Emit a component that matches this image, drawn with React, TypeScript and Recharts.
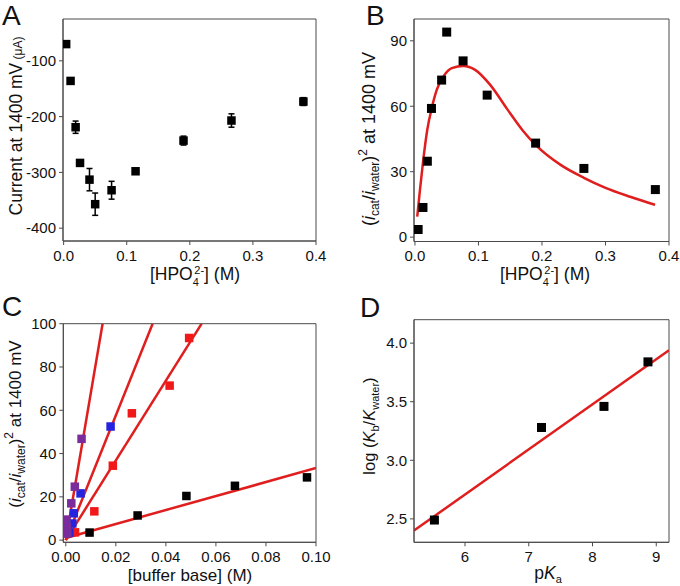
import React from "react";
import {
  ComposedChart,
  Scatter,
  Line,
  XAxis,
  YAxis,
  ErrorBar,
  ReferenceArea,
} from "recharts";

const FONT = "'Liberation Sans', Arial, Helvetica, sans-serif";
const RED = "#e01e1e";
const AXIS = "#4a4a4a";

// A: current at 1400 mV vs [HPO4 2-]
const aConc = [0.004, 0.011, 0.019, 0.026, 0.041, 0.05, 0.076, 0.114, 0.19, 0.266, 0.38];
const aCurrent = [-70, -136, -219, -283, -313, -357, -332, -298, -243, -207, -173];
const aErr = [3, 3, 11, 5, 20, 20, 16, 5, 8, 12, 7];

// B: (icat/iwater)^2 vs [HPO4 2-], with fitted curve
const bConc = [0.005, 0.0126, 0.0195, 0.026, 0.042, 0.05, 0.0758, 0.1137, 0.19, 0.266, 0.3785];
const bRatio = [3.5, 13.6, 34.8, 59, 72, 94, 80.8, 65.1, 43.1, 31.5, 21.8];
const bFitX = [0.0036, 0.0079, 0.0131, 0.0194, 0.0264, 0.0343, 0.0447, 0.058, 0.0763, 0.0948, 0.1185, 0.145, 0.17, 0.19, 0.23, 0.266, 0.3, 0.34, 0.378];
const bFitY = [9.4, 21.7, 35.4, 49.2, 59.1, 67.5, 73.6, 77.5, 78.5, 76.7, 69.8, 58.8, 48.8, 42.3, 33, 27.2, 22.6, 18.4, 14.8];

// C: ratio vs [buffer base] for four buffers
const cBlackX = [0.0095, 0.0287, 0.0482, 0.0676, 0.0964];
const cBlackY = [3.5, 11.4, 20.4, 25.1, 29];
const cRedX = [0.0037, 0.0114, 0.0188, 0.0264, 0.0415, 0.0493];
const cRedY = [3.6, 13.3, 34.4, 58.6, 71.4, 93.4];
const cBlueX = [0.0014, 0.0026, 0.0032, 0.0059, 0.0179];
const cBlueY = [3.5, 7.7, 12.4, 21.6, 52.5];
const cPurpleX = [0.0006, 0.0004, 0.0002, 0.0022, 0.0036, 0.0063];
const cPurpleY = [3, 6, 9.5, 17, 24.7, 46.8];
const cFitBlackX = [0, 0.1];
const cFitBlackY = [1, 33.3];
const cFitRedX = [0, 0.0543];
const cFitRedY = [0, 100];
const cFitBlueX = [0, 0.0347];
const cFitBlueY = [0, 100];
const cFitPurpleX = [0, 0.0147];
const cFitPurpleY = [0, 100];

// D: log(kb/kwater) vs pKa
const dPka = [5.52, 7.2, 8.18, 8.87];
const dLog = [2.49, 3.28, 3.46, 3.84];
const dFitX = [5.2, 9.2];
const dFitY = [2.4, 3.94];

const zip = (xs: number[], ys: number[], extra?: number[]) =>
  xs.map((x, i) => ({ x, y: ys[i], err: extra ? extra[i] : 0 }));

const square = (fill: string, s: number) => (p: any) =>
  <rect x={p.cx - s / 2} y={p.cy - s / 2} width={s} height={s} fill={fill} />;

const tickStyle = { fill: "#111", fontSize: 15, fontFamily: FONT };

function Frame({ x, y }: { x: number[]; y: number[] }) {
  return (
    <ReferenceArea x1={x[0]} x2={x[1]} y1={y[0]} y2={y[1]} fill="none" stroke={AXIS} strokeWidth={1} fillOpacity={0} ifOverflow="visible" />
  );
}

function axes(xDom: number[], xTicks: number[], xDig: number, yDom: number[], yTicks: number[], yDig: number) {
  return [
    <XAxis
      key="x"
      type="number"
      dataKey="x"
      domain={xDom}
      ticks={xTicks}
      interval={0}
      allowDataOverflow
      tickFormatter={(v: number) => v.toFixed(xDig)}
      tick={tickStyle}
      height={30}
      tickSize={4}
      tickMargin={5}
      stroke={AXIS}
    />,
    <YAxis
      key="y"
      type="number"
      dataKey="y"
      domain={yDom}
      ticks={yTicks}
      interval={0}
      allowDataOverflow
      tickFormatter={(v: number) => v.toFixed(yDig)}
      tick={tickStyle}
      width={40}
      tickSize={4}
      tickMargin={3}
      stroke={AXIS}
    />,
  ];
}

function PanelA() {
  const xd = [-0.001, 0.4];
  const yd = [-423, -25];
  return (
    <ComposedChart width={340} height={293} margin={{ top: 19, right: 24, bottom: 22, left: 23 }}>
      {axes(xd, [0, 0.1, 0.2, 0.3, 0.4], 1, yd, [-400, -300, -200, -100], 0)}
      <Frame x={xd} y={yd} />
      <Scatter data={zip(aConc, aCurrent, aErr)} shape={square("#000", 8.5)} isAnimationActive={false}>
        <ErrorBar dataKey="err" direction="y" width={3} stroke="#000" strokeWidth={1.5} />
      </Scatter>
    </ComposedChart>
  );
}

function PanelB() {
  const xd = [-0.0015, 0.4];
  const yd = [-2, 100];
  return (
    <ComposedChart width={340} height={293} margin={{ top: 19, right: 11, bottom: 21.5, left: 34 }}>
      {axes(xd, [0, 0.1, 0.2, 0.3, 0.4], 1, yd, [0, 30, 60, 90], 0)}
      <Frame x={xd} y={yd} />
      <Line data={zip(bFitX, bFitY)} dataKey="y" type="monotone" stroke={RED} strokeWidth={2.5} dot={false} isAnimationActive={false} />
      <Scatter data={zip(bConc, bRatio)} shape={square("#000", 9)} isAnimationActive={false} />
    </ComposedChart>
  );
}

function PanelC() {
  const xd = [-0.001, 0.1];
  const yd = [-1, 100];
  const fit = (xs: number[], ys: number[], k: string) => (
    <Line key={k} data={zip(xs, ys)} dataKey="y" type="linear" stroke={RED} strokeWidth={2.5} dot={false} isAnimationActive={false} />
  );
  return (
    <ComposedChart width={340} height={293} margin={{ top: 30.7, right: 24, bottom: 13.7, left: 23.3 }}>
      {axes(xd, [0, 0.02, 0.04, 0.06, 0.08, 0.1], 2, yd, [0, 20, 40, 60, 80, 100], 0)}
      <Frame x={xd} y={yd} />
      <Scatter data={zip(cBlackX, cBlackY)} shape={square("#000", 8.5)} isAnimationActive={false} />
      <Scatter data={zip(cRedX, cRedY)} shape={square("#f01818", 8.5)} isAnimationActive={false} />
      <Scatter data={zip(cBlueX, cBlueY)} shape={square("#2424e0", 8.5)} isAnimationActive={false} />
      <Scatter data={zip(cPurpleX, cPurpleY)} shape={square("#7a2c9c", 8.5)} isAnimationActive={false} />
      {fit(cFitBlackX, cFitBlackY, "fb")}
      {fit(cFitRedX, cFitRedY, "fr")}
      {fit(cFitBlueX, cFitBlueY, "fbl")}
      {fit(cFitPurpleX, cFitPurpleY, "fp")}
    </ComposedChart>
  );
}

function PanelD() {
  const xd = [5.2, 9.2];
  const yd = [2.3, 4.2];
  return (
    <ComposedChart width={340} height={293} margin={{ top: 26.7, right: 11, bottom: 13.7, left: 34 }}>
      {axes(xd, [6, 7, 8, 9], 0, yd, [2.5, 3, 3.5, 4], 1)}
      <Frame x={xd} y={yd} />
      <Scatter data={zip(dPka, dLog)} shape={square("#000", 9)} isAnimationActive={false} />
      <Line data={zip(dFitX, dFitY)} dataKey="y" type="linear" stroke={RED} strokeWidth={2.5} dot={false} isAnimationActive={false} />
    </ComposedChart>
  );
}

function RatioTitle({ x, y, size }: { x: number; y: number; size: number }) {
  const s = Math.round(size * 0.68);
  return (
    <text transform={`translate(${x},${y}) rotate(-90)`} textAnchor="middle" fontSize={size}>
      (<tspan fontStyle="italic">i</tspan>
      <tspan fontSize={s} dy={4}>cat</tspan>
      <tspan dy={-4}>/</tspan>
      <tspan fontStyle="italic">i</tspan>
      <tspan fontSize={s} dy={4}>water</tspan>
      <tspan dy={-4}>)</tspan>
      <tspan fontSize={s} dy={-8}>2</tspan>
      <tspan dy={8}>{" at 1400 mV"}</tspan>
    </text>
  );
}

function HpoTitle({ x, y }: { x: number; y: number }) {
  return (
    <text x={x} y={y} textAnchor="middle" fontSize={17.5}>
      [HPO
      <tspan fontSize={11} dy={6}>4</tspan>
      <tspan fontSize={11} dx={-4.5} dy={-12.5}>2-</tspan>
      <tspan dy={6.5}>{"] (M)"}</tspan>
    </text>
  );
}

function Labels() {
  return (
    <svg width={680} height={586} style={{ position: "absolute", left: 0, top: 0, pointerEvents: "none" }}>
      <g fontFamily={FONT} fill="#111">
        <text x={2} y={25} fontSize={28}>A</text>
        <text x={366} y={25} fontSize={28}>B</text>
        <text x={2} y={316} fontSize={28}>C</text>
        <text x={360} y={317} fontSize={28}>D</text>

        <text transform="translate(21.5,126) rotate(-90)" textAnchor="middle" fontSize={17.5}>
          Current at 1400 mV
          <tspan fontSize={12}>{" (\u03bcA)"}</tspan>
        </text>
        <HpoTitle x={195} y={280} />

        <RatioTitle x={375} y={139} size={18} />
        <HpoTitle x={545} y={280} />

        <RatioTitle x={20.5} y={424} size={17} />
        <text x={190} y={580.5} textAnchor="middle" fontSize={17}>[buffer base] (M)</text>

        <text transform="translate(375,426) rotate(-90)" textAnchor="middle" fontSize={16.5}>
          {"log ("}
          <tspan fontStyle="italic">K</tspan>
          <tspan fontSize={11} dy={4}>b</tspan>
          <tspan dy={-4}>/</tspan>
          <tspan fontStyle="italic">K</tspan>
          <tspan fontSize={11} dy={4}>water</tspan>
          <tspan dy={-4}>)</tspan>
        </text>
        <text x={548} y={578.5} textAnchor="middle" fontSize={17.5}>
          p<tspan fontStyle="italic">K</tspan>
          <tspan fontSize={11} dy={4}>a</tspan>
        </text>
      </g>
    </svg>
  );
}

export default function App() {
  return (
    <div style={{ position: "absolute", left: 0, top: 0, width: 680, height: 586, background: "#fff" }}>
      <div style={{ position: "absolute", left: 0, top: 0 }}>
        <PanelA />
      </div>
      <div style={{ position: "absolute", left: 340, top: 0 }}>
        <PanelB />
      </div>
      <div style={{ position: "absolute", left: 0, top: 293 }}>
        <PanelC />
      </div>
      <div style={{ position: "absolute", left: 340, top: 293 }}>
        <PanelD />
      </div>
      <Labels />
    </div>
  );
}
